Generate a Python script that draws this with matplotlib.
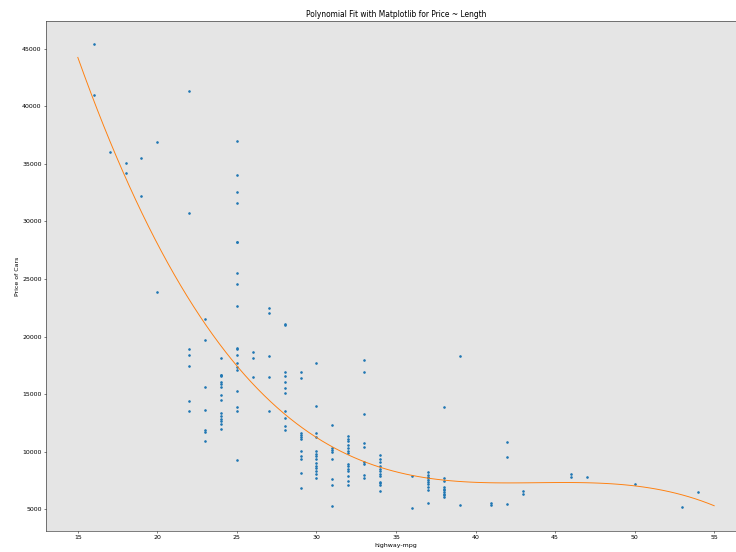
import numpy as np
import matplotlib
matplotlib.use('Agg')
import matplotlib.pyplot as plt

# highway-mpg columns and the car prices
mpg_values = [16, 17, 18, 19, 20, 22, 23, 24, 25, 26, 27, 28, 29, 30, 31, 32,
              33, 34, 36, 37, 38, 39, 41, 42, 43, 46, 47, 50, 53, 54]
prices_by_mpg = [
    [45400, 40960],
    [36000],
    [35056, 34184],
    [35550, 32250],
    [36880, 23875],
    [41315, 30760, 18950, 18420, 17450, 14399, 13499],
    [21485, 19699, 15645, 13645, 11845, 11694, 10898],
    [18150, 16695, 16630, 16558, 16070, 15835, 15625, 14930, 14525, 13374,
     13100, 12830, 12629, 12420, 11928],
    [37028, 34028, 32528, 31600, 28248, 28176, 25552, 24565, 22625, 19045,
     18920, 18399, 17710, 17320, 17100, 15250, 13893, 13499, 9233],
    [18620, 18150, 16500],
    [22470, 22018, 18280, 16500, 13495],
    [21105, 20970, 16890, 16545, 16025, 15540, 15075, 13499, 12964, 12215, 11850],
    [16925, 16430, 11640, 11450, 11260, 11060, 10023, 9620, 9330, 8117, 6845],
    [17669, 13950, 11640, 11260, 10023, 9822, 9619, 9330, 8984, 8752, 8553,
     8293, 8031, 7711],
    [12300, 10310, 10150, 9965, 9330, 7660, 7140, 5260],
    [11350, 11120, 10890, 10600, 10310, 10080, 9850, 8957, 8750, 8523, 8290,
     7918, 7485, 7078],
    [17950, 16900, 13295, 10775, 10395, 9100, 8930, 7945, 7745],
    [9677, 9390, 9100, 8750, 8523, 8290, 8093, 7887, 7365, 7250, 7140, 6559],
    [7918, 5118],
    [8249, 7999, 7799, 7738, 7499, 7349, 7198, 6918, 6669, 5499],
    [13845, 7715, 7430, 6930, 6780, 6650, 6490, 6340, 6200, 6065],
    [18344, 5348],
    [5572, 5389],
    [10862, 9563, 5433],
    [6575, 6295],
    [8060, 7800],
    [7797],
    [7165],
    [5199],
    [6498],
]

# cubic fit price ~ highway-mpg (np.poly1d coefficients)
fit_coeffs = [-1.557, 204.8, -8965, 1.379e+05]
fit_range = (15, 55)

x = np.repeat(mpg_values, [len(p) for p in prices_by_mpg])
y = np.concatenate([np.array(p, dtype=float) for p in prices_by_mpg])

model = np.poly1d(fit_coeffs)
x_new = np.linspace(fit_range[0], fit_range[1], 100)
y_new = model(x_new)

fig = plt.figure(figsize=(736 / 45, 552 / 45), dpi=45)
ax = fig.add_axes([46 / 736, 21 / 552, 700 / 736, 510 / 552])
ax.plot(x, y, '.', x_new, y_new, '-')
ax.set_title('Polynomial Fit with Matplotlib for Price ~ Length')
ax.set_facecolor((0.898, 0.898, 0.898))
ax.set_xlabel('highway-mpg')
ax.set_ylabel('Price of Cars')

fig.savefig('out.png', dpi=45)
plt.close(fig)
